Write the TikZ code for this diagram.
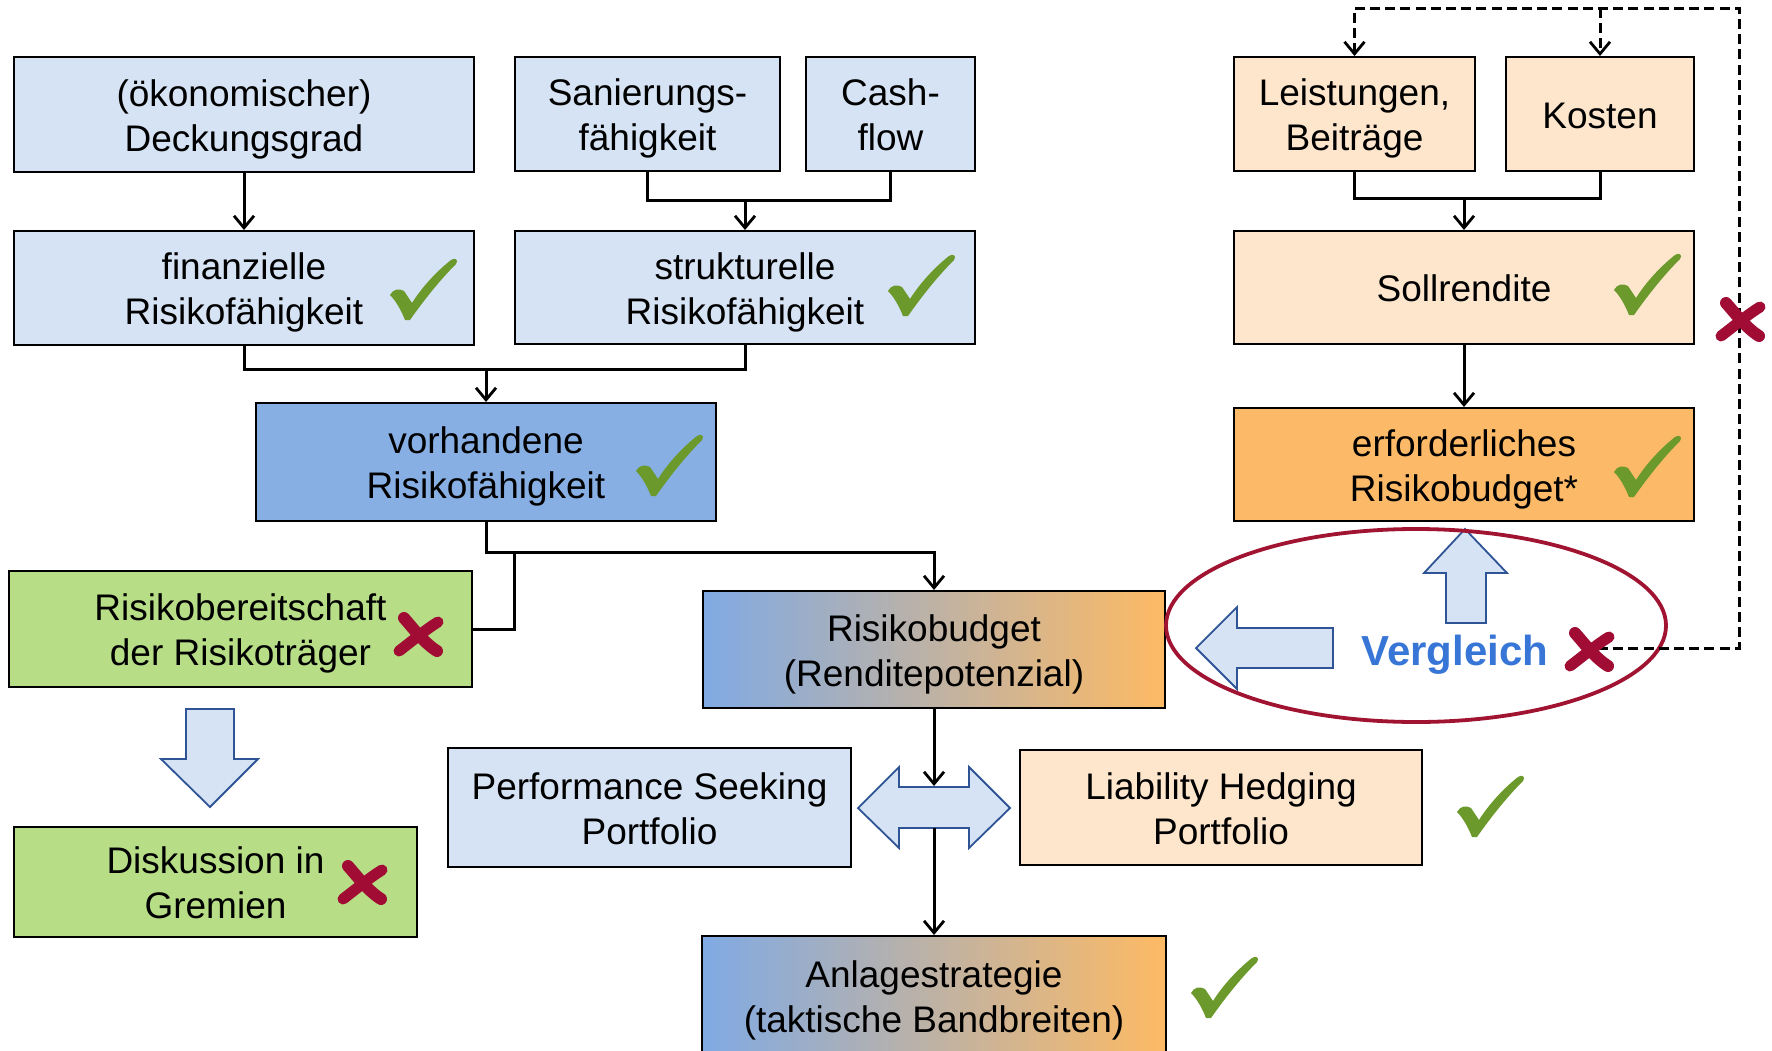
\documentclass[tikz,border=0pt]{standalone}
\usepackage{fontspec}
\setmainfont{Liberation Sans}
\usetikzlibrary{arrows.meta,calc}
\newcommand\tstr{\rule{0pt}{18pt}}
\definecolor{lblue}{RGB}{214,227,244}
\definecolor{mblue}{RGB}{135,175,228}
\definecolor{lgreen}{RGB}{183,222,135}
\definecolor{lorange}{RGB}{253,230,204}
\definecolor{dorange}{RGB}{252,186,104}
\definecolor{gblue}{RGB}{128,170,228}
\definecolor{gmid}{RGB}{198,176,188}
\definecolor{gorange}{RGB}{253,186,100}
\definecolor{chkgreen}{RGB}{107,153,43}
\definecolor{xred}{RGB}{160,12,52}
\definecolor{ellred}{RGB}{160,20,50}
\definecolor{vblue}{RGB}{55,118,214}
\definecolor{arrowblue}{RGB}{46,84,150}
\tikzset{
  box/.style={draw=black,line width=1pt,align=center,inner sep=0pt,
    font=\fontsize{18.5pt}{22.5pt}\selectfont,
    execute at end node={\rule[-4pt]{0pt}{4pt}}},
  grad/.style={left color=gblue,middle color=gmid,right color=gorange},
  tip/.style={-{Straight Barb[length=6pt,width=10pt,line width=1.4pt]}},
  conn/.style={line width=1.5pt,tip},
  plain/.style={line width=1.5pt},
  barrow/.style={draw=arrowblue,fill=lblue,line width=0.9pt,line join=miter},
  dashline/.style={line width=1.5pt,dash pattern=on 5pt off 2.6pt},
  chk/.pic={\fill[chkgreen] (0,37) .. controls (3,31) and (9,30) .. (14,33) -- (22,45)
     .. controls (32,29) and (47,13) .. (61,2) .. controls (65,-1) and (69,2) .. (66,6)
     .. controls (50,22) and (34,42) .. (20,62) -- (15,62)
     .. controls (11,52) and (6,43) .. (0,37) -- cycle;},
  xmk/.pic={\draw[xred,line width=6pt,line cap=round] (11,6) .. controls (20,16) and (30,30) .. (44,39);
     \draw[xred,line width=5.5pt,line cap=round] (45,10) .. controls (32,18) and (18,30) .. (6,39);}
}
\begin{document}
\begin{tikzpicture}[x=0.5pt,y=-0.5pt]
\useasboundingbox (0,0) rectangle (1772,1050);
\clip (0,0) rectangle (1772,1050);
\fill[white] (0,0) rectangle (1772,1050);

% boxes
\node[box,fill=lblue,minimum width=230pt,minimum height=57.5pt] (deck) at (244,114.5) {\tstr(ökonomischer)\\Deckungsgrad};
\node[box,fill=lblue,minimum width=132.5pt,minimum height=57pt] (san) at (647.5,114) {\tstr Sanierungs-\\fähigkeit};
\node[box,fill=lblue,minimum width=84.5pt,minimum height=57pt] (cash) at (890.5,114) {\tstr Cash-\\flow};
\node[box,fill=lblue,minimum width=230pt,minimum height=57pt] (fin) at (244,288) {\tstr finanzielle\\Risikofähigkeit};
\node[box,fill=lblue,minimum width=230pt,minimum height=56.5pt] (str) at (745,287.5) {\tstr strukturelle\\Risikofähigkeit};
\node[box,fill=mblue,minimum width=230pt,minimum height=59pt] (vor) at (486,462) {\tstr vorhandene\\Risikofähigkeit};
\node[box,fill=lgreen,minimum width=231.5pt,minimum height=58pt] (ber) at (240.5,629) {\tstr Risikobereitschaft\\der Risikoträger};
\node[box,fill=lgreen,minimum width=201.5pt,minimum height=55pt] (dis) at (215.5,882) {\tstr Diskussion in\\Gremien};
\node[box,grad,minimum width=231pt,minimum height=58.5pt] (rb) at (934,649.5) {\tstr Risikobudget\\(Renditepotenzial)};
\node[box,fill=lblue,minimum width=201.5pt,minimum height=59.5pt] (perf) at (649.5,807.5) {\tstr Performance Seeking\\Portfolio};
\node[box,fill=lorange,minimum width=201pt,minimum height=57.5pt] (liab) at (1221,807.5) {\tstr Liability Hedging\\Portfolio};
\node[box,grad,minimum width=232pt,minimum height=60pt] (anl) at (934,996) {\tstr Anlagestrategie\\(taktische Bandbreiten)};
\node[box,fill=lorange,minimum width=120.5pt,minimum height=57pt] (lei) at (1354.5,114) {\tstr Leistungen,\\Beiträge};
\node[box,fill=lorange,minimum width=94pt,minimum height=57pt] (kos) at (1600,114) {\tstr Kosten};
\node[box,fill=lorange,minimum width=230pt,minimum height=56.5pt] (soll) at (1464,287.5) {\tstr Sollrendite};
\node[box,fill=dorange,minimum width=230pt,minimum height=56.5pt] (erf) at (1464,464.5) {\tstr erforderliches\\Risikobudget*};

% junctions
\coordinate (j1) at (745,200);
\coordinate (j2) at (486,369.5);
\coordinate (j3) at (486,552);
\coordinate (j4) at (514,552);
\coordinate (j5) at (1464,198);
\coordinate (da1) at (934,786);
\coordinate (da2) at (934,828);

% connectors
\draw[conn] (deck.south) -- (fin.north);
\draw[plain] (san.south) |- (j1) -| (cash.south);
\draw[conn] (j1) -- (str.north);
\draw[plain] (fin.south) |- (j2) -| (str.south);
\draw[conn] (j2) -- (vor.north);
\draw[conn] (vor.south) -- (j3) -| (rb.north);
\draw[plain] (j4) |- (ber.east);
\draw[plain] (lei.south) |- (j5) -| (kos.south);
\draw[conn] (j5) -- (soll.north);
\draw[conn] (soll.south) -- (erf.north);

% block arrows
\draw[barrow] (186,709) -- (234,709) -- (234,759) -- (258,759) -- (210,807) -- (161,759) -- (186,759) -- cycle;
\draw[barrow] (858,808) -- (899,767) -- (899,787) -- (969,787) -- (969,767) -- (1010,808)
   -- (969,848) -- (969,828) -- (899,828) -- (899,848) -- cycle;
\draw[conn] (rb.south) -- (da1);
\draw[conn] (da2) -- (anl.north);
\draw[barrow] (1446,623) -- (1446,573) -- (1424,573) -- (1465,529) -- (1507,573) -- (1486,573) -- (1486,623) -- cycle;
\draw[barrow] (1333,628) -- (1237,628) -- (1237,607) -- (1196,648) -- (1237,689) -- (1237,668) -- (1333,668) -- cycle;

% Vergleich
\node[font=\bfseries\fontsize{21pt}{24pt}\selectfont,text=vblue,anchor=base west,inner sep=0pt] (vg) at (1361,665) {Vergleich};
\draw[ellred,line width=1.9pt] (1416,625.5) ellipse [x radius=125pt,y radius=48.25pt];

% dashed feedback
\coordinate (d0) at (1598,648);
\coordinate (d1) at (1739,648);
\coordinate (d2) at (1739,8);
\draw[dashline,tip] (d0) -- (d1) -- (d2) -| (lei.north);
\draw[dashline,tip] (kos.north |- d2) -- (kos.north);

% checkmarks
\pic at (390,258) {chk};
\pic at (888,254) {chk};
\pic at (1614,253) {chk};
\pic at (636,434) {chk};
\pic at (1614,435) {chk};
\pic at (1457,775) {chk};
\pic at (1191,956) {chk};

% crosses
\pic at (393,612) {xmk};
\pic at (337,860) {xmk};
\pic at (1564,627) {xmk};
\pic at (1715,297) {xmk};
\end{tikzpicture}
\end{document}
